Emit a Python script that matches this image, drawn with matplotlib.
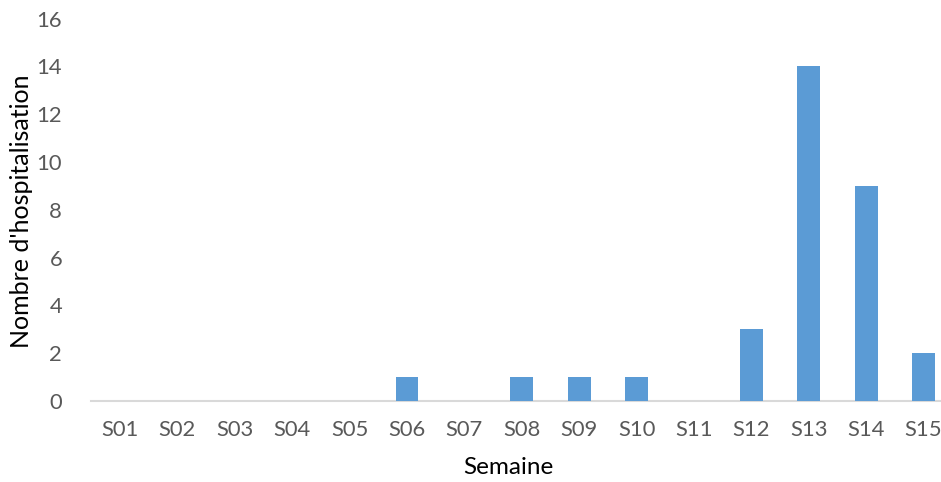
import matplotlib
matplotlib.use("Agg")
import matplotlib.pyplot as plt

weeks = ["S01", "S02", "S03", "S04", "S05", "S06", "S07", "S08",
         "S09", "S10", "S11", "S12", "S13", "S14", "S15"]
hospitalisations = [0, 0, 0, 0, 0, 1, 0, 1, 1, 1, 0, 3, 14, 9, 2]
y_ticks = [0, 2, 4, 6, 8, 10, 12, 14, 16]

plt.rcParams["font.family"] = ["Lato", "DejaVu Sans"]

W, H = 941, 482
fig = plt.figure(figsize=(W / 100, H / 100), dpi=100)
# plot area runs slightly past the right edge of the canvas
left, right, bottom, top = 91.3, 952.3, 401, 18.5
ax = fig.add_axes([left / W, 1 - bottom / H, (right - left) / W, (bottom - top) / H])

x = range(len(weeks))
ax.bar(x, hospitalisations, width=0.4, color="#5B9BD5", zorder=3)

ax.set_xlim(-0.5, len(weeks) - 0.5)
ax.set_ylim(0, 16)
ax.set_yticks(y_ticks)
ax.set_xticks(list(x))
ax.set_xticklabels(weeks)

for side in ("top", "right", "left"):
    ax.spines[side].set_visible(False)
ax.spines["bottom"].set_color("#D9D9D9")
ax.spines["bottom"].set_linewidth(1.5)

ax.tick_params(axis="both", length=0, labelsize=15.8, colors="#595959")
ax.tick_params(axis="y", pad=21)
ax.tick_params(axis="x", pad=14)

ax.set_xlabel("Semaine", fontsize=17.5, color="black", va="center")
ax.set_ylabel("Nombre d'hospitalisation", fontsize=18, color="black", va="center")
ax.xaxis.set_label_coords((508 - left) / (right - left), -(467 - bottom) / (bottom - top))
ax.yaxis.set_label_coords(-(left - 22) / (right - left), (bottom - 211) / (bottom - top))

fig.savefig("out.png", dpi=100)
